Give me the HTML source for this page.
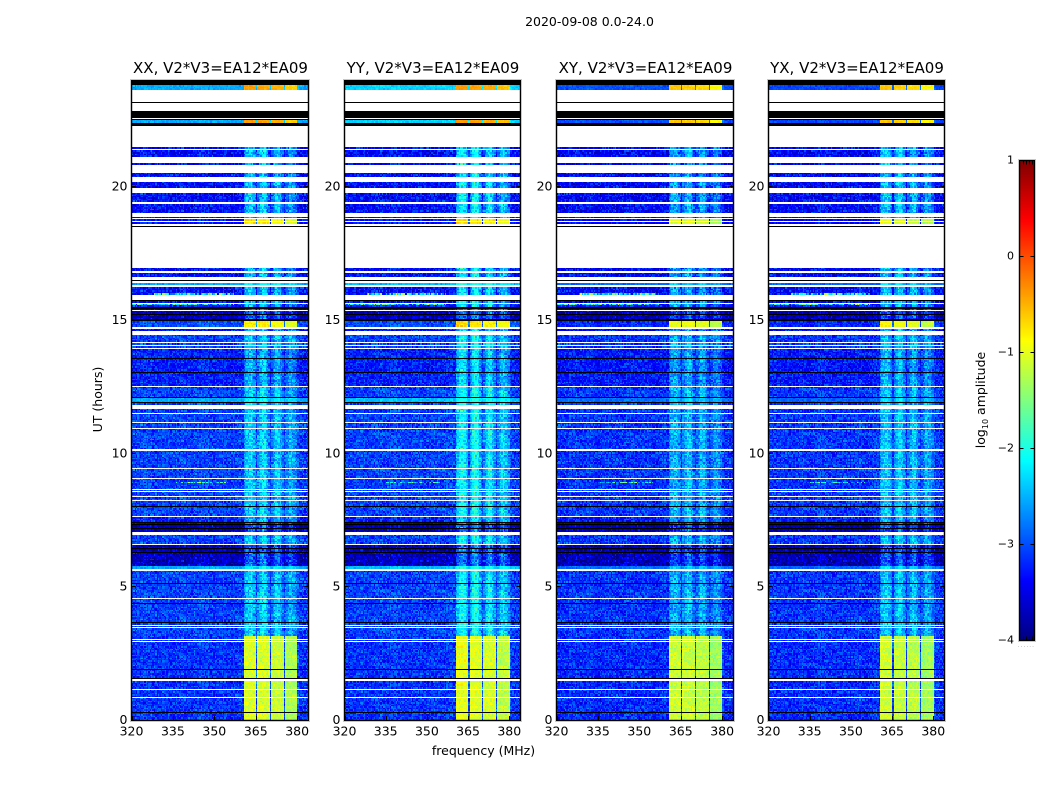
<!DOCTYPE html>
<html lang="en">
<head>
<meta charset="utf-8">
<title>2020-09-08 baseline waterfall</title>
<style>
html,body{margin:0;padding:0;background:#fff;width:1050px;height:800px;overflow:hidden}
svg{display:block}
text{font-family:"DejaVu Sans","Liberation Sans",sans-serif;fill:#000}
</style>
</head>
<body>
<svg id="figure" xmlns="http://www.w3.org/2000/svg" width="1050" height="800" viewBox="0 0 1050 800">
<text x="589.5" y="26" font-size="12.5" text-anchor="middle">2020-09-08 0.0-24.0</text>
<text x="483.5" y="755" font-size="12.5" text-anchor="middle">frequency (MHz)</text>
<text transform="translate(102,399.5) rotate(-90)" font-size="12.5" text-anchor="middle">UT (hours)</text>
<text transform="translate(985,400) rotate(-90)" font-size="12.5" text-anchor="middle">log<tspan font-size="8" dy="3">10</tspan><tspan dy="-3"> amplitude</tspan></text>
</svg>
<script>
// ---- chart data, estimated by eye from the reference ----
const panelTitles = ["XX, V2*V3=EA12*EA09", "YY, V2*V3=EA12*EA09", "XY, V2*V3=EA12*EA09", "YX, V2*V3=EA12*EA09"];
const panelNames = ["xx", "yy", "xy", "yx"];
const xTicks = [320, 335, 350, 365, 380];
const yTicks = [0, 5, 10, 15, 20];
const colorTicks = [-4, -3, -2, -1, 0, 1];
const colorTickLabels = ["\u22124", "\u22123", "\u22122", "\u22121", "0", "1"];

// Channel weights across the four spectral windows, 0.5 MHz apart from 360.6 MHz
const weakProfile = [
  .5,.7,.85,.9,.95,.95,.85,.7,.5,.1,
  .45,.6,.85,1,1,.95,.85,.6,.35,.1,
  .35,.5,.7,.85,.9,.8,.65,.5,.35,.1,
  .35,.45,.6,.7,.7,.65,.55,.4,.3,.1,0];
const strongProfile = [
  1,1,1,1,1,1,1,1,1,.08,
  .98,.98,.98,.98,.98,.98,.98,.98,.98,.08,
  .95,.95,.95,.95,.95,.95,.95,.95,.95,.08,
  .89,.89,.89,.89,.89,.89,.89,.89,.89,.08,0];

// log10 amplitude by row type, one value per panel [XX, YY, XY, YX]
const backgroundLevels = {
  N:[-3.08,-3.08,-3.15,-3.13], M:[-3.25,-3.25,-3.3,-3.28], Q:[-3.35,-3.35,-3.4,-3.38], D:[-3.72,-3.72,-3.75,-3.75],
  T:[-2.55,-2.35,-3.0,-3.05], Y:[-3.3,-3.3,-3.4,-3.4], S:[-3.0,-3.0,-3.2,-3.2],
  C:[-2.55,-2.45,-2.85,-2.9], R:[-3.15,-3.15,-3.2,-3.18]
};
const windowLevels = {
  N:[-2.25,-2.0,-2.4,-2.3], M:[-2.4,-2.15,-2.5,-2.4], Q:[-2.3,-2.05,-2.45,-2.3], D:[-2.8,-2.65,-2.95,-2.85],
  T:[-.4,-.38,-.6,-.6], Y:[-.75,-.7,-1.0,-1.0], S:[-.8,-.7,-.95,-.9],
  C:[-2.1,-1.95,-2.3,-2.2], R:[-1.05,-.98,-1.12,-1.12]
};
const strongTypes = ["T", "Y", "S", "R"];
const noiseScales = {N:.75, M:.75, Q:.8, D:.9, T:.3, C:.35, Y:.6, S:.6, R:.75};

// Observed rows: [UT top, UT bottom, type]. K = black (zero), gaps stay white (flagged).
const timeRows = [
 [24,23.81,"K"],[23.81,23.63,"T"],[23.18,23.14,"K"],[22.84,22.58,"K"],[22.54,22.5,"K"],[22.5,22.39,"T"],[22.39,22.28,"K"],
 [21.49,21.41,"Q"],[21.38,21.3,"Q"],[21.3,21.11,"Q"],[20.89,20.81,"Q"],[20.53,20.49,"Q"],[20.46,20.36,"Q"],
 [20.18,19.95,"Q"],[19.76,19.43,"Q"],[19.35,19.01,"Q"],[18.86,18.83,"Q"],[18.79,18.71,"Y"],[18.68,18.6,"Y"],[18.53,18.49,"K"],
 [16.95,16.84,"Q"],[16.76,16.61,"Q"],[16.5,16.46,"K"],[16.39,16.31,"C"],[16.24,15.94,"Q"],[15.75,15.71,"K"],[15.71,15.64,"Q"],
 [15.6,15.49,"Q"],[15.49,15.41,"K"],[15.41,15.38,"D"],[15.34,15.23,"D"],[15.23,15.19,"K"],[15.19,15.04,"D"],[15.04,14.96,"K"],
 [14.96,14.74,"S"],[14.68,14.57,"Q"],[14.44,14.18,"N"],[14.14,14.06,"N"],[14.03,13.95,"N"],[13.91,13.58,"M"],[13.58,13.54,"K"],
 [13.54,13.05,"M"],[13.05,13.01,"K"],[13.01,12.53,"M"],[12.49,12.11,"N"],[12.11,12.08,"K"],[12.08,11.93,"C"],[11.93,11.89,"K"],
 [11.89,11.81,"N"],[11.66,11.51,"N"],[11.48,11.18,"N"],[11.14,11.04,"N"],[11.01,10.95,"N"],[10.91,10.16,"N"],[10.09,9.45,"N"],
 [9.41,9.08,"N"],[9.04,8.66,"N"],[8.62,8.59,"N"],[8.55,8.4,"N"],[8.36,8.25,"N"],[8.21,8.03,"N"],[8.03,7.99,"K"],[7.99,7.65,"N"],
 [7.61,7.43,"M"],[7.43,7.39,"K"],[7.39,7.35,"D"],[7.35,7.31,"K"],[7.31,7.2,"D"],[7.2,7.16,"K"],[7.16,7.05,"D"],
 [6.94,6.6,"N"],[6.56,6.45,"D"],[6.45,6.41,"K"],[6.41,6.3,"D"],[6.3,6.26,"K"],[6.26,5.78,"D"],[5.78,5.66,"C"],
 [5.59,5.14,"N"],[5.14,5.1,"K"],[5.1,4.58,"N"],[4.54,4.39,"N"],[4.39,4.35,"K"],[4.35,3.68,"N"],[3.68,3.64,"K"],[3.64,3.56,"N"],
 [3.53,3.49,"N"],[3.45,3.15,"N"],[3.15,3.04,"R"],[3,2.96,"R"],[2.93,1.91,"R"],[1.91,1.88,"K"],[1.88,1.58,"R"],[1.58,1.54,"K"],
 [1.46,1.16,"R"],[1.13,.86,"R"],[.83,.3,"R"],[.3,.26,"K"],[.26,0,"R"]
];

// Narrow interference streaks: [UT, MHz start, MHz end, log10 amplitude]
const streaks = [[15.99,328,357,-2.3],[15.56,320,357,-2.4],[8.89,335,355,-2.5]];

// Hand-typed noise tile that gives the cells their speckle (log10 deviation)
const noiseTile = [.22,-.31,.08,.35,-.12,-.38,.17,.02,-.25,.41,-.06,.29,-.34,.11,-.18,.33,-.02,-.41,.26,.05,
  -.22,.38,-.09,.14,-.29,.2,-.36,.31,.03,-.15,.44,-.27,.09,-.05,.24,-.33,.16,-.11,.37,-.2,.06];
const rowShifts = [0,17,5,29,11,36,23,8,32,14,2,26,39,20,7,34,12,30,3,24,37,16,9];

// ---- scales ----
const NS = "http://www.w3.org/2000/svg";
const svg = document.getElementById("figure");
const panelLeft = [131.5, 344.5, 556.5, 768.5];
const panelWidth = [177, 176, 177, 176];
const plotTop = 80, plotBottom = 720;
const freqMin = 320, freqMax = 384.1, utMin = 0, utMax = 24;
const xScale = (f, p) => panelLeft[p] + (f - freqMin) / (freqMax - freqMin) * panelWidth[p];
const yScale = u => plotBottom - (u - utMin) / (utMax - utMin) * (plotBottom - plotTop);
const barLeft = 1019.5, barRight = 1034.5, barTop = 160.5, barBottom = 640.5, barMin = -4, barMax = 1;
const barScale = v => barBottom - (v - barMin) / (barMax - barMin) * (barBottom - barTop);
const clamp = v => Math.max(0, Math.min(1, v));
function jetFraction(t) {
  const c = k => Math.round(255 * clamp(1.5 - Math.abs(4 * t - k)));
  return "rgb(" + c(3) + "," + c(2) + "," + c(1) + ")";
}
const jet = v => jetFraction(clamp((v - barMin) / (barMax - barMin)));
function make(tag, attrs, parent) {
  const el = document.createElementNS(NS, tag);
  for (const k in attrs) el.setAttribute(k, attrs[k]);
  parent.appendChild(el);
  return el;
}

// Channel edges every 0.5 MHz, aligned to the spectral windows at 360.6 MHz
const channelEdges = [];
for (let k = -83; k < 50; k++) channelEdges.push(360.6 + k * .5);
const windowStart = 83;

const defs = make("defs", {}, svg);

panelTitles.forEach((title, p) => {
  const group = make("g", {}, svg);
  
  

  const clip = make("clipPath", {id: "clip" + p}, defs);
  make("rect", {x: panelLeft[p], y: plotTop, width: panelWidth[p], height: plotBottom - plotTop}, clip);

  const heat = make("g", {"clip-path": "url(#clip" + p + ")", "shape-rendering": "crispEdges"}, group);
  
  

  // Cells are gathered by quantised colour so the page stays light
  const buckets = new Map();
  const blackRows = [];
  const pixelEdges = channelEdges.map(f => Math.round(xScale(f, p)));
  let rowIndex = 0;
  timeRows.forEach(row => {
    const hi = row[0], lo = row[1], type = row[2];
    if (type === "K") {
      blackRows.push(row);
      return;
    }
    const profile = strongTypes.includes(type) ? strongProfile : weakProfile;
    const strong = profile === strongProfile;
    const bg = backgroundLevels[type][p], win = windowLevels[type][p];
    const scale = noiseScales[type];
    const count = Math.max(1, Math.round((hi - lo) / .055));
    for (let r = 0; r < count; r++) {
      const uTop = hi - (hi - lo) * r / count, uBot = hi - (hi - lo) * (r + 1) / count;
      const yTop = Math.round(yScale(uTop));
      const yBot = Math.round(yScale(uBot));
      if (yBot <= yTop) continue;
      const streak = streaks.find(s => s[0] <= uTop && s[0] > uBot);
      const shift = rowShifts[rowIndex % rowShifts.length];
      for (let c = 0; c < channelEdges.length - 1; c++) {
        const f0 = channelEdges[c];
        const w = c >= windowStart && c - windowStart < profile.length ? profile[c - windowStart] : 0;
        const n1 = noiseTile[(c * 3 + shift + p * 13) % noiseTile.length];
        const n2 = noiseTile[(c * 7 + rowShifts[(rowIndex * 5 + c) % rowShifts.length]) % noiseTile.length];
        const noise = (n1 + n2) * .8;
        let v = bg + (win - bg) * w + noise * scale * (strong && w > .5 ? .55 : 1);
        if (streak && f0 >= streak[1] && f0 < streak[2]) v = streak[3] + noise * 2.2;
        const level = Math.round(clamp((v - barMin) / (barMax - barMin)) * 255);
        const x0 = pixelEdges[c], x1 = pixelEdges[c + 1];
        if (x1 <= x0) continue;
        let list = buckets.get(level);
        if (!list) {
          list = [];
          buckets.set(level, list);
        }
        list.push("M" + x0 + " " + yTop + "h" + (x1 - x0) + "v" + (yBot - yTop) + "h" + (x0 - x1) + "z");
      }
      rowIndex++;
    }
  });
  buckets.forEach((list, level) => {
    const cells = make("path", {d: list.join(""), fill: jetFraction(level / 255)}, heat);
    
    
  });
  blackRows.forEach(row => {
    const y0 = Math.round(yScale(row[0]));
    const y1 = Math.max(y0 + 1, Math.round(yScale(row[1])));
    const black = make("rect", {x: panelLeft[p], y: y0, width: panelWidth[p], height: y1 - y0, fill: "#000"}, heat);
    
    
  });

  const halo = make("rect", {x: panelLeft[p], y: plotTop + .5, width: panelWidth[p], height: plotBottom - plotTop, fill: "none", stroke: "#000", "stroke-opacity": .22, "stroke-width": 3, "shape-rendering": "crispEdges"}, group);
  
  
  const frame = make("rect", {x: panelLeft[p], y: plotTop + .5, width: panelWidth[p], height: plotBottom - plotTop, fill: "none", stroke: "#000", "stroke-width": 1, "shape-rendering": "crispEdges"}, group);
  
  

  xTicks.forEach(t => {
    const x = Math.round(xScale(t, p)) + .5;
    const low = make("line", {x1: x, x2: x, y1: plotBottom, y2: plotBottom - 4, stroke: "#000", "shape-rendering": "crispEdges"}, group);
    
    
    const high = make("line", {x1: x, x2: x, y1: plotTop, y2: plotTop + 4, stroke: "#000", "shape-rendering": "crispEdges"}, group);
    
    
    const label = make("text", {x: xScale(t, p), y: 735.5, "font-size": 12.5, "text-anchor": "middle"}, group);
    
    
    label.textContent = t;
  });

  yTicks.forEach(t => {
    const y = Math.floor(yScale(t)) + .5;
    const left = make("line", {x1: panelLeft[p], x2: panelLeft[p] + 4, y1: y, y2: y, stroke: "#000", "shape-rendering": "crispEdges"}, group);
    
    
    const right = make("line", {x1: panelLeft[p] + panelWidth[p], x2: panelLeft[p] + panelWidth[p] - 4, y1: y, y2: y, stroke: "#000", "shape-rendering": "crispEdges"}, group);
    
    
    const label = make("text", {x: panelLeft[p] - 4, y: yScale(t) + 4, "font-size": 12.5, "text-anchor": "end"}, group);
    
    
    label.textContent = t;
  });

  const heading = make("text", {x: panelLeft[p] + panelWidth[p] / 2 + .5, y: 73, "font-size": 15, "text-anchor": "middle"}, group);
  
  
  heading.textContent = title;
});

// ---- colour bar ----
const bar = make("g", {}, svg);


const barSteps = 240;
for (let i = 0; i < barSteps; i++) {
  const v0 = barMin + (barMax - barMin) * i / barSteps, v1 = barMin + (barMax - barMin) * (i + 1) / barSteps;
  const swatch = make("rect", {x: barLeft, y: barScale(v1), width: barRight - barLeft, height: barScale(v0) - barScale(v1), fill: jet((v0 + v1) / 2), "shape-rendering": "crispEdges"}, bar);
  
  
}
const barHalo = make("rect", {x: barLeft, y: barTop, width: barRight - barLeft, height: barBottom - barTop, fill: "none", stroke: "#000", "stroke-opacity": .22, "stroke-width": 3, "shape-rendering": "crispEdges"}, bar);


const barFrame = make("rect", {x: barLeft, y: barTop, width: barRight - barLeft, height: barBottom - barTop, fill: "none", stroke: "#000", "shape-rendering": "crispEdges"}, bar);


colorTicks.forEach((t, i) => {
  const y = Math.floor(barScale(t)) + .5;
  [[barLeft, barLeft + 4], [barRight, barRight - 4]].forEach(pair => {
    const tick = make("line", {x1: pair[0], x2: pair[1], y1: y, y2: y, stroke: "#000", "shape-rendering": "crispEdges"}, bar);
    
    
  });
  const label = make("text", {x: 1014, y: barScale(t) + 3, "font-size": 11, "text-anchor": "end"}, bar);
  
  
  label.textContent = colorTickLabels[i];
});
[1, 2, 3, 4].forEach(k => {
  const x = Math.round(barLeft + k * (barRight - barLeft) / 5) + .5;
  const up = make("line", {x1: x, x2: x, y1: barTop, y2: barTop + 4, stroke: "#000", "shape-rendering": "crispEdges"}, bar);
  
  
  const down = make("line", {x1: x, x2: x, y1: barBottom, y2: barBottom - 4, stroke: "#000", "shape-rendering": "crispEdges"}, bar);
  
  
});
const dots = make("text", {x: 1026.5, y: 647, "font-size": 5, "text-anchor": "middle", "letter-spacing": "1.3", style: "fill:#777"}, bar);


dots.textContent = "......";
</script>
</body>
</html>
